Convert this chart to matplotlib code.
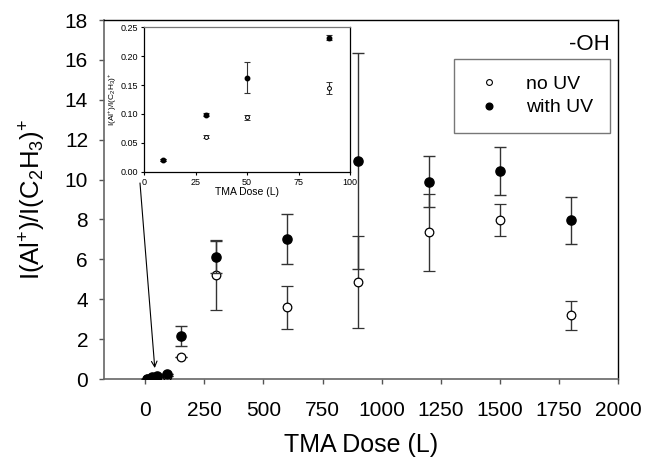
import matplotlib
matplotlib.use("Agg")
import matplotlib.pyplot as plt
from matplotlib.lines import Line2D

plt.rcParams['font.family'] = ['Liberation Sans', 'DejaVu Sans']
plt.rcParams['mathtext.fontset'] = 'custom'
plt.rcParams['mathtext.rm'] = 'Liberation Sans'
plt.rcParams['mathtext.it'] = 'Liberation Sans:italic'

# Data
dose = [9, 30, 50, 90, 150, 300, 600, 900, 1200, 1500, 1800]
no_uv = [0.02, 0.061, 0.094, 0.145, 1.09, 5.22, 3.6, 4.88, 7.37, 7.98, 3.2]
no_uv_err = [0.002, 0.003, 0.004, 0.010, 0.0, 1.75, 1.08, 2.3, 1.93, 0.8, 0.73]
with_uv = [0.02, 0.099, 0.163, 0.232, 2.16, 6.13, 7.04, 10.93, 9.9, 10.42, 7.95]
with_uv_err = [0.002, 0.002, 0.027, 0.004, 0.52, 0.8, 1.25, 5.43, 1.3, 1.2, 1.18]

inset_n = 4  # first four doses shown in the inset

main_xticks = [0, 250, 500, 750, 1000, 1250, 1500, 1750, 2000]
main_yticks = [0, 2, 4, 6, 8, 10, 12, 14, 16, 18]
inset_xticks = [0, 25, 50, 75, 100]
inset_yticks = [0.0, 0.05, 0.10, 0.15, 0.20, 0.25]

ylabel = r'I(Al$^{+}$)/I(C$_{2}$H$_{3}$)$^{+}$'

fig = plt.figure(figsize=(6.45, 4.63), dpi=100)
ax = fig.add_axes([0.1612, 0.1814, 0.7968, 0.7754])

ebc = '#333333'
ax.errorbar(dose, no_uv, yerr=no_uv_err, fmt='o', ms=6.2, mfc='white', mec='black',
            mew=0.9, ecolor=ebc, elinewidth=1.0, capsize=4.5, capthick=1.0, zorder=3)
ax.errorbar(dose, with_uv, yerr=with_uv_err, fmt='o', ms=6.6, mfc='black', mec='black',
            ecolor=ebc, elinewidth=1.0, capsize=4.5, capthick=1.0, zorder=4)

ax.set_xlim(-175, 2000)
ax.set_ylim(0, 18)
ax.set_xticks(main_xticks)
ax.set_yticks(main_yticks)
ax.tick_params(labelsize=15, length=3.5, width=1, color='#555555', direction='out')
ax.tick_params(axis='x', pad=12)
ax.tick_params(axis='y', pad=8)
for s in ['left', 'bottom']:
    ax.spines[s].set_color('#666666')
    ax.spines[s].set_linewidth(1.2)
for s in ['top', 'right']:
    ax.spines[s].set_color('black')
    ax.spines[s].set_linewidth(1.0)
ax.set_xlabel('TMA Dose (L)', fontsize=18, labelpad=10)
ax.set_ylabel(ylabel, fontsize=18.5, labelpad=12)

ax.text(0.985, 0.962, '-OH', transform=ax.transAxes, ha='right', va='top', fontsize=16)

handles = [Line2D([], [], ls='none', marker='o', ms=4.2, mfc='white', mec='black', mew=0.8),
           Line2D([], [], ls='none', marker='o', ms=4.8, mfc='black', mec='black')]
leg = ax.legend(handles, ['no UV', 'with UV'], loc='upper right',
                bbox_to_anchor=(0.9844, 0.891), fontsize=14, frameon=True,
                fancybox=False, edgecolor='#555555', handletextpad=0.95,
                borderpad=0.85, labelspacing=0.28, handlelength=1.9, borderaxespad=0)
leg.get_frame().set_linewidth(1.0)

# Inset
axi = fig.add_axes([0.2233, 0.629, 0.3194, 0.312])
axi.set_facecolor('white')
axi.errorbar(dose[:inset_n], no_uv[:inset_n], yerr=no_uv_err[:inset_n], fmt='o', ms=2.8,
             mfc='white', mec='black', mew=0.7, ecolor=ebc, elinewidth=0.8,
             capsize=2.5, capthick=0.8, zorder=3)
axi.errorbar(dose[:inset_n], with_uv[:inset_n], yerr=with_uv_err[:inset_n], fmt='o', ms=3.2,
             mfc='black', mec='black', ecolor=ebc, elinewidth=0.8,
             capsize=2.5, capthick=0.8, zorder=4)
axi.set_xlim(0, 100)
axi.set_ylim(0, 0.25)
axi.set_xticks(inset_xticks)
axi.set_yticks(inset_yticks)
axi.set_yticklabels(['%.2f' % v for v in inset_yticks])
axi.tick_params(labelsize=6.5, length=2.5, width=0.8, pad=2)
axi.set_xlabel('TMA Dose (L)', fontsize=7.5, labelpad=0)
axi.set_ylabel(ylabel, fontsize=6, labelpad=1)
for s in axi.spines.values():
    s.set_linewidth(0.9)
axi.spines['top'].set_color('#777777')

# Arrow from inset to the low-dose points
ax.annotate('', xy=(40, 0.55), xycoords='data',
            xytext=(140 / 645, 1 - 183 / 463), textcoords='figure fraction',
            arrowprops=dict(arrowstyle='->', color='black', lw=0.8,
                            mutation_scale=10, shrinkA=0, shrinkB=0))

fig.savefig('out.png', dpi=100)
